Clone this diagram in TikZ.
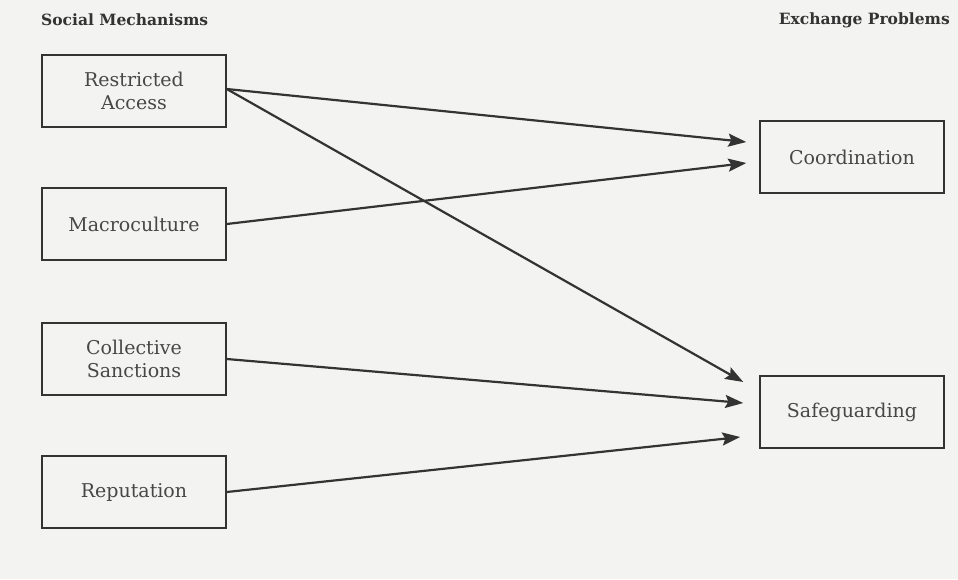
\documentclass[tikz,border=0pt]{standalone}
\usepackage{fontspec}
\setmainfont{DejaVu Serif}
\usetikzlibrary{arrows.meta}
\definecolor{ink}{HTML}{333333}
\definecolor{paper}{HTML}{F3F3F1}
\tikzset{
  mech/.style={draw=ink, line width=1.5pt, minimum width=184pt, minimum height=72pt,
    align=center, text=ink!90, font=\fontsize{19}{23}\selectfont},
  head/.style={text=ink, font=\bfseries\fontsize{15.5}{19}\selectfont, inner sep=0pt},
  link/.style={draw=ink, line width=2.2pt, -{Stealth[length=18pt,width=13pt,inset=3pt]}}
}
\begin{document}
\begin{tikzpicture}[x=1pt,y=-1pt]
\fill[paper] (0,0) rectangle (958,579);
\useasboundingbox (0,0) rectangle (958,579);

% headings
\node[head, anchor=west] (hs) at (41,20) {Social Mechanisms};
\node[head, anchor=east] (he) at (950,20) {Exchange Problems};

% social mechanisms
\node[mech] (ra) at (134,91)  {Restricted\\Access};
\node[mech] (mc) at (134,224) {Macroculture};
\node[mech] (cs) at (134,359) {Collective\\Sanctions};
\node[mech] (rp) at (134,492) {Reputation};

% exchange problems
\node[mech] (co) at (852,157) {Coordination};
\node[mech] (sg) at (852,412) {Safeguarding};

\draw[link] ([yshift=2pt]ra.east) -- ([xshift=-13pt,yshift=15pt]co.west);
\draw[link] (mc.east) -- ([xshift=-13pt,yshift=-6pt]co.west);
\draw[link] ([yshift=2pt]ra.east) -- ([xshift=-16pt,yshift=30pt]sg.west);
\draw[link] (cs.east) -- ([xshift=-16pt,yshift=9pt]sg.west);
\draw[link] (rp.east) -- ([xshift=-19pt,yshift=-25pt]sg.west);

\end{tikzpicture}
\end{document}
